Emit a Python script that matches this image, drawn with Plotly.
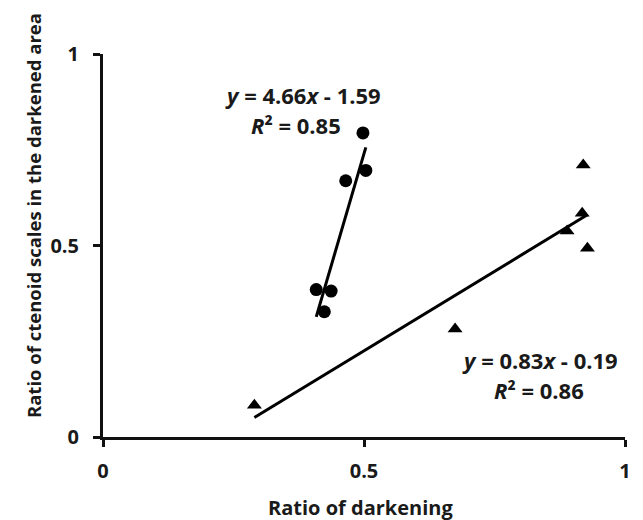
import numpy as np
import plotly.graph_objects as go

# ---- data ----
circle_x = [0.498, 0.5035, 0.465, 0.4085, 0.437, 0.424]
circle_y = [0.794, 0.696, 0.669, 0.385, 0.381, 0.327]
triangle_x = [0.920, 0.918, 0.889, 0.928, 0.6745, 0.290]
triangle_y = [0.710, 0.584, 0.538, 0.493, 0.282, 0.083]
circle_fit = [4.66, -1.59]     # slope, intercept
circle_r2 = 0.85
triangle_fit = [0.83, -0.19]
triangle_r2 = 0.86
tick_vals = [0, 0.5, 1]
tick_text = ["0", "0.5", "1"]
x_title = "Ratio of darkening"
y_title = "Ratio of ctenoid scales in the darkened area"

FONT = "Open Sans"
TXT = "#1a1a1a"

def fit_line(xs, coef):
    xx = np.array([min(xs), max(xs)])
    return xx, coef[0] * xx + coef[1]

fig = go.Figure()
cx, cy = fit_line(circle_x, circle_fit)
tx, ty = fit_line(triangle_x, triangle_fit)
fig.add_trace(go.Scatter(x=cx, y=cy, mode="lines", line=dict(color="black", width=3), showlegend=False))
fig.add_trace(go.Scatter(x=tx, y=ty, mode="lines", line=dict(color="black", width=3), showlegend=False))
fig.add_trace(go.Scatter(x=circle_x, y=circle_y, mode="markers",
                         marker=dict(symbol="circle", size=13, color="black"), showlegend=False))
fig.add_trace(go.Scatter(x=triangle_x, y=triangle_y, mode="markers",
                         marker=dict(symbol="triangle-up", size=13, color="black"), showlegend=False))

L, R, T, B = 103, 14, 54, 83
W, H = 643, 520
pw, ph = W - L - R, H - T - B

def px(x):
    return (x - L) / pw

def py(y):
    return (H - B - y) / ph

def eq_text(coef):
    sign = "-" if coef[1] < 0 else "+"
    return f"<b><i>y</i> = {coef[0]:.2f}<i>x</i> {sign} {abs(coef[1]):.2f}</b>"

def r2_text(r2):
    return f"<b><i>R</i>² = {r2:.2f}</b>"

eqf = dict(family=FONT, size=22, color=TXT)
ann = [
    dict(x=px(305), y=py(95), text=eq_text(circle_fit), font=eqf),
    dict(x=px(297.5), y=py(125), text=r2_text(circle_r2), font=eqf),
    dict(x=px(543.5), y=py(360), text=eq_text(triangle_fit), font=eqf),
    dict(x=px(542.5), y=py(390), text=r2_text(triangle_r2), font=eqf),
    dict(x=px(362), y=py(507), text=f"<b>{x_title}</b>",
         font=dict(family=FONT, size=20, color=TXT)),
    dict(x=px(33), y=py(215.5), text=f"<b>{y_title}</b>", textangle=-90,
         font=dict(family=FONT, size=18.5, color=TXT)),
]
annotations = []
for a in ann:
    a.update(xref="paper", yref="paper", xanchor="center", yanchor="middle",
             showarrow=False)
    annotations.append(a)

axis_common = dict(range=[0, 1], tickvals=tick_vals,
                   ticktext=[f"<b>{t}</b>" for t in tick_text],
                   showgrid=False, zeroline=False, showline=True, linewidth=3,
                   linecolor="#111", ticks="outside", ticklen=7, tickwidth=3,
                   tickcolor="#111", tickfont=dict(family=FONT, size=20, color=TXT))

fig.update_layout(
    width=W, height=H,
    margin=dict(l=L, r=R, t=T, b=B, pad=0),
    paper_bgcolor="white", plot_bgcolor="white",
    xaxis=dict(**axis_common, ticklabelstandoff=7),
    yaxis=dict(**axis_common, ticklabelstandoff=10),
    annotations=annotations,
)
fig.write_html("out.html")
